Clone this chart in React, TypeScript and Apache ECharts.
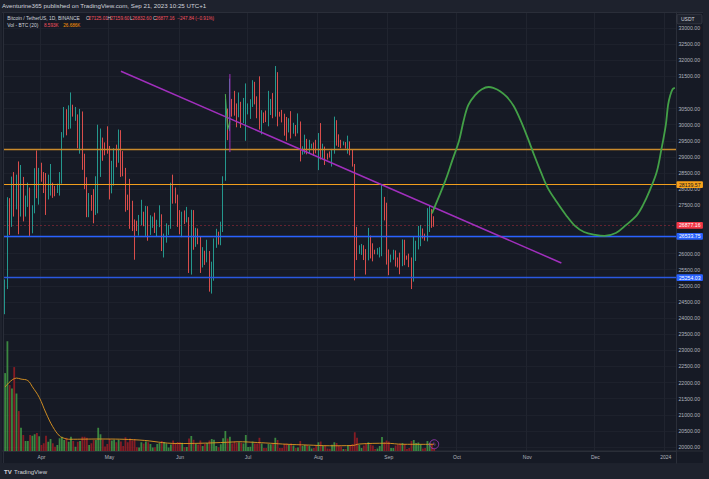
import React, { useEffect, useRef } from 'react';
import * as echarts from 'echarts';

const FONT = '"Liberation Sans", Arial, sans-serif';

// ---- categories: daily dates shown on the time axis ----
const FIRST_DAY = '2023-03-16';
const DAY_COUNT = 296;
const MONTH_NAMES = ['Jan', 'Feb', 'Mar', 'Apr', 'May', 'Jun', 'Jul', 'Aug', 'Sep', 'Oct', 'Nov', 'Dec'];
const categories: string[] = [];
{
  const t0 = Date.parse(FIRST_DAY + 'T00:00:00Z');
  for (let i = 0; i < DAY_COUNT; i++) categories.push(new Date(t0 + i * 86400000).toISOString().slice(0, 10));
}

// ---- price axis ticks ----
const PRICE_MIN = 19500;
const PRICE_MAX = 33500;
const PRICE_STEP = 500;
// labels covered by price tags / drawings in the reference
const HIDDEN_PRICE_LABELS = [19500, 33500, 31000, 27000, 26500];

// ---- daily candles BTC/USDT [open, high, low, close] ----
const ohlcMar = [
  [24280, 25200, 24120, 25050], [25050, 27750, 24900, 27420], [27420, 27720, 26580, 26930], [26930, 28390, 26830, 28040],
  [28040, 28530, 27150, 27770], [27770, 28450, 27370, 28170], [28170, 28860, 26600, 27300], [27300, 28750, 27150, 28330],
  [28330, 28380, 27000, 27480], [27480, 27800, 27150, 27490], [27490, 28200, 27450, 27990], [27990, 28050, 26550, 27130],
  [27130, 27500, 26630, 27260], [27260, 28650, 27250, 28350], [28350, 29200, 27720, 28030], [28030, 28660, 27520, 28470],
];
const ohlcApr = [
  [28470, 28820, 28230, 28450], [28450, 28530, 27880, 28200], [28200, 28500, 27200, 27800], [27800, 28450, 27680, 28170],
  [28170, 28780, 27800, 28170], [28170, 28200, 27730, 28030], [28030, 28100, 27780, 27920], [27920, 28170, 27880, 27950],
  [27950, 28530, 27800, 28330], [28330, 29770, 28170, 29650], [29650, 30550, 29600, 30230], [30230, 30480, 29670, 29880],
  [29880, 30600, 29860, 30390], [30390, 31000, 29880, 30480], [30480, 30620, 30250, 30320], [30320, 30550, 30120, 30320],
  [30320, 30320, 29270, 29440], [29440, 30490, 29100, 30380], [30380, 30410, 28600, 28800], [28800, 29100, 28000, 28240],
  [28240, 28370, 27130, 27260], [27260, 27880, 27130, 27820], [27820, 27820, 27330, 27590], [27590, 28000, 26940, 27510],
  [27510, 28400, 27200, 28300], [28300, 30000, 27250, 28420], [28420, 29880, 28380, 29470], [29470, 29600, 28880, 29340],
  [29340, 29450, 29050, 29250], [29250, 29950, 29100, 29230],
];
const ohlcMay = [
  [29230, 29340, 27680, 28070], [28070, 28880, 27870, 28670], [28670, 29270, 28110, 29030], [29030, 29380, 28680, 28850],
  [28850, 29850, 28820, 29530], [29530, 29830, 28380, 28900], [28900, 29180, 28400, 28440], [28440, 28660, 27300, 27660],
  [27660, 27830, 27350, 27620], [27620, 28320, 26770, 27600], [27600, 27640, 26700, 26990], [26990, 27060, 25810, 26800],
  [26800, 27020, 26700, 26780], [26780, 27200, 26560, 26930], [26930, 27670, 26880, 27170], [27170, 27300, 26850, 27030],
  [27030, 27480, 26550, 27400], [27400, 27470, 26400, 26830], [26830, 27190, 26580, 26890], [26890, 27150, 26800, 27100],
  [27100, 27270, 26640, 26750], [26750, 27050, 26540, 26850], [26850, 27500, 26820, 27220], [27220, 27220, 26080, 26330],
  [26330, 26620, 25880, 26470], [26470, 26940, 26340, 26720], [26720, 26890, 26580, 26870], [26870, 28200, 26770, 28080],
  [28080, 28450, 27550, 27740], [27740, 28050, 27560, 27700], [27700, 27830, 26830, 27210],
];
const ohlcJun = [
  [27210, 27350, 26600, 26820], [26820, 27300, 26510, 27250], [27250, 27340, 26920, 27070], [27070, 27450, 26970, 27120],
  [27120, 27130, 25400, 25730], [25730, 27360, 25350, 27230], [27230, 27350, 26120, 26340], [26340, 26800, 26210, 26500],
  [26500, 26780, 26290, 26480], [26480, 26530, 25400, 25850], [25850, 26200, 25570, 25920], [25920, 26090, 25650, 25900],
  [25900, 26430, 25730, 25900], [25900, 26080, 24820, 25120], [25120, 25750, 24760, 25580], [25580, 26470, 25160, 26340],
  [26340, 26770, 26180, 26510], [26510, 26680, 26280, 26340], [26340, 26990, 26260, 26840], [26840, 28400, 26670, 28310],
  [28310, 30800, 28260, 30000], [30000, 30500, 29520, 29890], [29890, 31430, 29800, 30690], [30690, 30800, 30250, 30550],
  [30550, 31050, 30280, 30470], [30470, 30660, 29920, 30270], [30270, 31000, 30230, 30690], [30690, 30710, 29900, 30080],
  [30080, 30830, 30050, 30450], [30450, 31280, 29500, 30470],
];
const ohlcJul = [
  [30470, 30660, 30320, 30590], [30590, 30790, 30180, 30620], [30620, 31380, 30550, 31160], [31160, 31330, 30630, 30770],
  [30770, 30880, 30200, 30510], [30510, 31500, 29850, 29890], [29890, 30450, 29700, 30350], [30350, 30380, 30050, 30290],
  [30290, 30440, 30080, 30170], [30170, 31050, 29950, 30410], [30410, 30800, 30300, 30620], [30620, 30980, 30200, 30390],
  [30390, 31820, 30250, 31480], [31480, 31630, 29950, 30320], [30320, 30400, 30250, 30290], [30290, 30460, 30070, 30230],
  [30230, 30340, 29660, 30140], [30140, 30240, 29500, 29860], [29860, 30200, 29760, 29910], [29910, 30420, 29570, 29800],
  [29800, 30060, 29720, 29910], [29910, 29990, 29640, 29800], [29800, 30350, 29730, 30080], [30080, 30100, 28860, 29180],
  [29180, 29330, 29070, 29230], [29230, 29690, 29100, 29350], [29350, 29560, 29080, 29210], [29210, 29530, 29120, 29320],
  [29320, 29410, 29260, 29360], [29360, 29450, 29030, 29280], [29280, 29530, 29110, 29230],
];
const ohlcAug = [
  [29230, 29740, 28590, 29700], [29700, 30050, 28920, 29180], [29180, 29410, 28960, 29180], [29180, 29320, 28750, 29070],
  [29070, 29110, 28920, 29050], [29050, 29170, 28980, 29040], [29040, 29250, 28700, 29180], [29180, 30250, 29100, 29770],
  [29770, 30140, 29350, 29580], [29580, 29700, 29310, 29430], [29430, 29530, 29270, 29400], [29400, 29480, 29360, 29420],
  [29420, 29460, 29260, 29280], [29280, 29660, 29100, 29410], [29410, 29480, 29050, 29170], [29170, 29230, 28700, 28700],
  [28700, 28780, 25170, 26620], [26620, 26830, 25800, 26050], [26050, 26260, 25990, 26100], [26100, 26300, 25960, 26190],
  [26190, 26260, 25800, 26120], [26120, 26140, 25350, 26050], [26050, 26800, 25790, 26430], [26430, 26560, 25850, 26160],
  [26160, 26320, 25760, 26060], [26060, 26120, 25980, 26000], [26000, 26170, 25970, 26090], [26090, 26200, 25880, 26110],
  [26110, 28140, 25920, 27720], [27720, 27760, 27030, 27300], [27300, 27580, 25660, 25940],
];
const ohlcSep = [
  [25940, 26130, 25330, 25800], [25800, 25970, 25730, 25870], [25870, 26120, 25810, 25970], [25970, 26100, 25600, 25810],
  [25810, 25880, 25570, 25780], [25780, 26030, 25360, 25750], [25750, 26440, 25610, 26240], [26240, 26430, 25640, 25910],
  [25910, 25940, 25810, 25890], [25890, 26000, 25580, 25830], [25830, 25880, 24900, 25160], [25160, 26540, 25130, 25840],
  [25840, 26400, 25770, 26220], [26220, 26860, 26130, 26530], [26530, 26890, 26230, 26600], [26600, 26780, 26470, 26570],
  [26570, 26620, 26400, 26530], [26530, 27410, 26380, 26760], [26760, 27490, 26670, 27210], [27210, 27380, 26800, 27125.01],
  [27125.01, 27159.6, 26832.6, 26877.16],
];

// ---- daily volume, thousand BTC ----
const volMar = [312, 440, 264, 250, 336, 230, 160, 93, 64, 40, 40, 64, 61, 67, 72, 59];
const volApr = [24, 31, 61, 37, 48, 31, 17, 24, 51, 57, 44, 53, 37, 57, 40, 17, 37, 40, 57, 57, 53, 24, 31, 44, 44, 93, 67, 45, 18, 28];
const volMay = [48, 42, 45, 35, 45, 38, 20, 55, 35, 50, 42, 48, 15, 14, 35, 30, 38, 35, 28, 14, 15, 28, 32, 40, 36, 30, 14, 26, 42, 30, 36];
const volJun = [35, 33, 15, 16, 50, 60, 45, 28, 26, 42, 20, 28, 32, 42, 48, 45, 20, 15, 27, 51, 80, 50, 57, 30, 37, 33, 35, 32, 30, 64];
const volJul = [16, 17, 38, 30, 30, 53, 30, 12, 12, 28, 27, 30, 53, 44, 12, 12, 28, 30, 25, 30, 22, 12, 14, 40, 20, 24, 24, 20, 10, 12, 22];
const volAug = [35, 38, 22, 22, 10, 9, 25, 35, 32, 20, 18, 8, 8, 22, 24, 28, 75, 53, 25, 12, 22, 30, 35, 26, 22, 8, 10, 20, 56, 35, 42];
const volSep = [38, 12, 12, 22, 26, 30, 32, 28, 8, 12, 40, 44, 32, 34, 28, 10, 12, 40, 32, 30, 8.593];

// ---- Vol MA(20), thousand BTC, read at dates ----
const volMA: [string, number][] = [
  ['2023-03-16', 256], ['2023-03-21', 292], ['2023-03-23', 288], ['2023-03-26', 282], ['2023-03-28', 257],
  ['2023-03-31', 215], ['2023-04-03', 152], ['2023-04-06', 97], ['2023-04-09', 60], ['2023-04-11', 51],
  ['2023-04-13', 47], ['2023-04-27', 48], ['2023-05-14', 44], ['2023-05-31', 30], ['2023-06-10', 31],
  ['2023-06-22', 35], ['2023-06-27', 37], ['2023-07-03', 35], ['2023-07-11', 31], ['2023-07-18', 27],
  ['2023-07-27', 24], ['2023-08-06', 21], ['2023-08-16', 22], ['2023-08-19', 28], ['2023-08-31', 31],
  ['2023-09-07', 27], ['2023-09-21', 26.686],
];

// ---- drawings ----
const levelUpperOrange = 29230;
const levelLowerOrange = 28139.57;
const levelUpperBlue = 26533.75;
const levelLowerBlue = 25254.03;
const lastClose = 26877.16;
const trendLine: [string, number][] = [['2023-05-06', 31660], ['2023-11-16', 25710]];
const projection: [string, number][] = [
  ['2023-09-20', 27250], ['2023-09-26', 28280], ['2023-09-29', 28900], ['2023-10-02', 29520], ['2023-10-04', 30140],
  ['2023-10-06', 30610], ['2023-10-09', 30920], ['2023-10-12', 31100], ['2023-10-15', 31170], ['2023-10-17', 31140],
  ['2023-10-20', 31040], ['2023-10-23', 30860], ['2023-10-26', 30580], ['2023-10-29', 30140], ['2023-11-01', 29620],
  ['2023-11-04', 29060], ['2023-11-07', 28530], ['2023-11-10', 28040], ['2023-11-14', 27600], ['2023-11-18', 27200],
  ['2023-11-22', 26860], ['2023-11-26', 26670], ['2023-12-01', 26580], ['2023-12-05', 26550], ['2023-12-10', 26640],
  ['2023-12-14', 26860], ['2023-12-19', 27170], ['2023-12-22', 27510], ['2023-12-25', 27970], ['2023-12-28', 28530],
  ['2023-12-30', 29210], ['2024-01-01', 29990], ['2024-01-02', 30610], ['2024-01-03', 30920], ['2024-01-04', 31100],
  ['2024-01-05', 31140],
];
const smallPurpleMark: [string, number][] = [['2023-06-23', 31570], ['2023-06-23', 29150]];
const smallGreenMark: [string, number][] = [['2023-06-21', 30950], ['2023-06-22', 29850], ['2023-06-23', 30100]];
const eventMarker: [string, number][] = [['2023-09-21', 27]];

const UP = '#26a69a';
const DOWN = '#ef5350';
const VOL_UP = 'rgba(67,160,71,0.82)';
const VOL_DOWN = 'rgba(150,28,36,0.88)';

function buildOption() {
  const ohlc = [...ohlcMar, ...ohlcApr, ...ohlcMay, ...ohlcJun, ...ohlcJul, ...ohlcAug, ...ohlcSep];
  const volumes = [...volMar, ...volApr, ...volMay, ...volJun, ...volJul, ...volAug, ...volSep];
  const candleData = ohlc.map(([o, h, l, c]) => [o, c, l, h]);
  const volData = volumes.map((v, i) => ({
    value: v,
    itemStyle: { color: ohlc[i][3] >= ohlc[i][0] ? VOL_UP : VOL_DOWN },
  }));
  const isMonthStart = (_i: number, v: string) => v.slice(8) === '01';
  const monthLabel = (v: string) => {
    const m = +v.slice(5, 7);
    return m === 1 ? v.slice(0, 4) : MONTH_NAMES[m - 1];
  };
  const tag = (value: number, line: any, bg: string, fg: string) => ({
    yAxis: value,
    lineStyle: line,
    label: {
      show: true,
      position: 'end',
      distance: 0.5,
      formatter: value.toFixed(2),
      backgroundColor: bg,
      color: fg,
      fontSize: 5.2,
      fontFamily: FONT,
      padding: [1, 2.4, 0.6, 2.4],
      borderRadius: 1,
    },
  });

  const txt = (text: string, x: number, y: number, fill: string, size: number, weight = 'normal') => ({
    type: 'text',
    x,
    y,
    silent: true,
    z: 50,
    style: { text, fill, fontSize: size, fontFamily: FONT, fontWeight: weight, verticalAlign: 'middle' },
  });

  return {
    animation: false,
    backgroundColor: '#1e222d',
    graphic: [
      { type: 'rect', z: -10, silent: true, shape: { x: 2, y: 12.5, width: 701, height: 450.5 }, style: { fill: '#161a25' } },
      { type: 'line', z: 1, silent: true, shape: { x1: 2, y1: 12.5, x2: 703, y2: 12.5 }, style: { stroke: '#2a2e39', lineWidth: 1 } },
      { type: 'line', z: 1, silent: true, shape: { x1: 2, y1: 451, x2: 703, y2: 451 }, style: { stroke: '#2a2e39', lineWidth: 1 } },
      { type: 'line', z: 1, silent: true, shape: { x1: 3.5, y1: 12.5, x2: 3.5, y2: 463 }, style: { stroke: '#2a2e39', lineWidth: 1 } },
      txt('Aventurine365 published on TradingView.com, Sep 21, 2023 10:25 UTC+1', 2, 5.8, '#d1d4dc', 6.2),
      txt('Bitcoin / TetherUS, 1D, BINANCE', 7.3, 18, '#d1d4dc', 4.9),
      txt('O', 86, 18, '#d1d4dc', 4.9), txt('27125.01', 88.6, 18, '#f7525f', 4.6),
      txt('H', 107.6, 18, '#d1d4dc', 4.9), txt('27159.60', 110.2, 18, '#f7525f', 4.6),
      txt('L', 130, 18, '#d1d4dc', 4.9), txt('26832.60', 132.3, 18, '#f7525f', 4.6),
      txt('C', 153, 18, '#d1d4dc', 4.9), txt('26877.16', 155.4, 18, '#f7525f', 4.6),
      txt('\u2212247.84 (\u22120.91%)', 177.3, 18, '#f7525f', 4.6),
      txt('Vol - BTC (20)', 7.3, 25.6, '#d1d4dc', 4.9),
      txt('8.593K', 44, 25.6, '#f7525f', 4.6),
      txt('26.686K', 63.3, 25.6, '#ff9800', 4.6),
      {
        type: 'rect', z: 50, silent: true,
        shape: { x: 677, y: 14.3, width: 25, height: 9.5, r: 1.5 },
        style: { fill: '#1e222d', stroke: '#434651', lineWidth: 0.6 },
      },
      txt('USDT', 681, 19.1, '#d1d4dc', 5),
      txt('TV', 4, 471.5, '#d1d4dc', 6, 'bold'),
      txt('TradingView', 14, 471.5, '#d1d4dc', 6),
    ],
    grid: [
      { left: 4, right: 33, top: 11.885, height: 451.23 },
      { left: 4, right: 33, top: 12.5, bottom: 28 },
    ],
    xAxis: [
      { type: 'category', gridIndex: 0, data: categories, boundaryGap: true, show: false },
      {
        type: 'category', gridIndex: 1, data: categories, boundaryGap: true,
        axisLine: { show: true, lineStyle: { color: '#2a2e39' } },
        axisTick: { show: false },
        axisLabel: { interval: isMonthStart, formatter: monthLabel, color: '#b2b5be', fontSize: 5, margin: 3, fontFamily: FONT },
        splitLine: { show: true, interval: isMonthStart, lineStyle: { color: '#20242f', width: 1 } },
      },
    ],
    yAxis: [
      {
        type: 'value', gridIndex: 0, position: 'right', min: PRICE_MIN, max: PRICE_MAX, interval: PRICE_STEP,
        axisLine: { show: true, lineStyle: { color: '#2a2e39' } },
        axisTick: { show: false },
        axisLabel: {
          formatter: (v: number) => (HIDDEN_PRICE_LABELS.includes(v) ? '' : v.toFixed(2)),
          color: '#b2b5be', fontSize: 5.2, margin: 2.4, fontFamily: FONT,
        },
        splitLine: { show: true, lineStyle: { color: '#1d212c', width: 1 } },
      },
      { type: 'value', gridIndex: 1, min: 0, max: 1756, show: false },
    ],
    series: [
      {
        type: 'bar', xAxisIndex: 1, yAxisIndex: 1, data: volData, barWidth: 1.8, z: 1, silent: true,
      },
      {
        type: 'line', xAxisIndex: 1, yAxisIndex: 1, data: volMA, smooth: 0.4, symbol: 'none', z: 2, silent: true,
        lineStyle: { color: '#e39a22', width: 0.9 },
      },
      {
        type: 'scatter', xAxisIndex: 1, yAxisIndex: 1, data: eventMarker, symbol: 'circle', symbolSize: 9, z: 6, silent: true,
        itemStyle: { color: 'rgba(0,0,0,0)', borderColor: '#a23cbf', borderWidth: 1 },
        label: { show: true, position: 'inside', formatter: '\u03df', color: '#b64fd2', fontSize: 5.5, fontFamily: '"DejaVu Sans"' },
      },
      {
        type: 'candlestick', xAxisIndex: 0, yAxisIndex: 0, data: candleData, barWidth: 1.3, z: 3, silent: true,
        itemStyle: { color: UP, color0: DOWN, borderColor: UP, borderColor0: DOWN, borderWidth: 0.9 },
        markLine: {
          symbol: 'none', silent: true, animation: false,
          data: [
            { yAxis: levelUpperOrange, lineStyle: { color: '#c98a2c', width: 1.4, type: 'solid' }, label: { show: false } },
            tag(levelLowerOrange, { color: '#f29f1d', width: 1.2, type: 'solid' }, '#f7a21b', '#131722'),
            tag(lastClose, { color: 'rgba(242,54,69,0.45)', width: 0.8, type: [2, 2] }, '#f23645', '#ffffff'),
            tag(levelUpperBlue, { color: '#2962ff', width: 1.3, type: 'solid' }, '#2962ff', '#ffffff'),
            tag(levelLowerBlue, { color: '#2a58e0', width: 1.3, type: 'solid' }, '#2962ff', '#ffffff'),
          ],
        },
      },
      {
        type: 'line', xAxisIndex: 0, yAxisIndex: 0, data: trendLine, symbol: 'none', z: 5, silent: true,
        lineStyle: { color: '#a12fbd', width: 1.5 },
      },
      {
        type: 'line', xAxisIndex: 0, yAxisIndex: 0, data: smallPurpleMark, symbol: 'none', z: 5, silent: true,
        lineStyle: { color: '#a12fbd', width: 1 },
      },
      {
        type: 'line', xAxisIndex: 0, yAxisIndex: 0, data: smallGreenMark, symbol: 'none', z: 5, silent: true,
        lineStyle: { color: '#4caf50', width: 1 },
      },
      {
        type: 'line', xAxisIndex: 0, yAxisIndex: 0, data: projection, symbol: 'none', smooth: 0.35, z: 5, silent: true,
        lineStyle: { color: '#43a047', width: 1.8 },
      },
    ],
  };
}

export default function App() {
  const ref = useRef<HTMLDivElement>(null);
  useEffect(() => {
    if (!ref.current) return;
    const chart = echarts.init(ref.current, null, { renderer: 'svg' });
    chart.setOption(buildOption() as any);
    return () => chart.dispose();
  }, []);
  return <div ref={ref} style={{ position: 'fixed', left: 0, top: 0, width: 709, height: 479 }} />;
}
